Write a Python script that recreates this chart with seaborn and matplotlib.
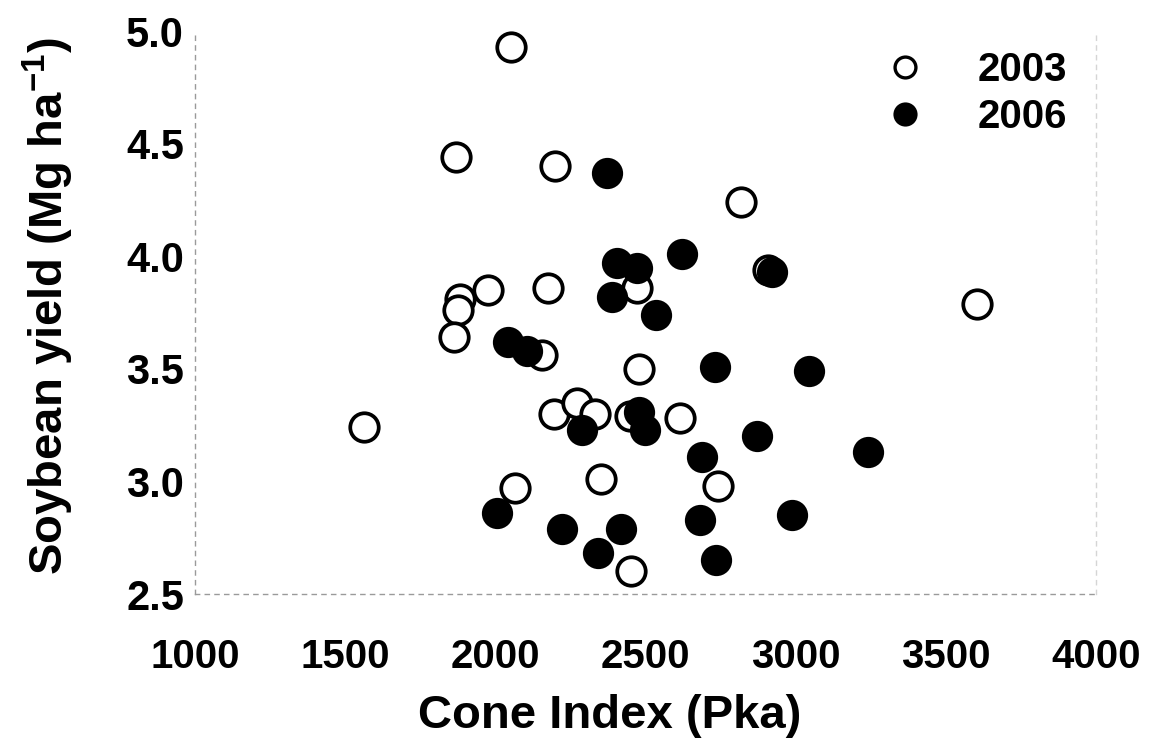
import matplotlib
matplotlib.use("Agg")
import matplotlib.pyplot as plt
import seaborn as sns
import pandas as pd
from matplotlib.lines import Line2D

# ---- data ----
ci_2003 = [2052, 1869, 2199, 2818, 1976, 2175, 2472, 1882, 1876, 1862, 2156, 2479,
           3604, 1563, 2195, 2272, 2332, 2449, 2615, 2066, 2352, 2742, 2452, 2908]
yield_2003 = [4.93, 4.44, 4.40, 4.24, 3.85, 3.86, 3.86, 3.81, 3.76, 3.64, 3.56, 3.50,
              3.79, 3.24, 3.30, 3.35, 3.30, 3.29, 3.28, 2.97, 3.01, 2.98, 2.60, 3.94]
ci_2006 = [2372, 2405, 2472, 2622, 2921, 2389, 2535, 2042, 2106, 2732, 3045, 2479,
           2289, 2499, 2871, 3241, 2688, 2006, 2222, 2419, 2682, 2988, 2342, 2735]
yield_2006 = [4.37, 3.97, 3.95, 4.01, 3.93, 3.82, 3.74, 3.62, 3.58, 3.51, 3.49, 3.31,
              3.23, 3.23, 3.20, 3.13, 3.11, 2.86, 2.79, 2.79, 2.83, 2.85, 2.68, 2.65]
years = ["2003", "2006"]
x_ticks = [1000, 1500, 2000, 2500, 3000, 3500, 4000]
y_ticks = [2.5, 3.0, 3.5, 4.0, 4.5, 5.0]

df03 = pd.DataFrame({"ci": ci_2003, "yld": yield_2003})
df06 = pd.DataFrame({"ci": ci_2006, "yld": yield_2006})

sns.set_style("white")
plt.rcParams["font.family"] = ["Liberation Sans", "DejaVu Sans"]
plt.rcParams["font.weight"] = "bold"
plt.rcParams["text.color"] = "black"
plt.rcParams["axes.labelcolor"] = "black"
plt.rcParams["xtick.labelcolor"] = "black"
plt.rcParams["ytick.labelcolor"] = "black"
plt.rcParams["mathtext.fontset"] = "custom"
plt.rcParams["mathtext.rm"] = "Liberation Sans:bold"
plt.rcParams["mathtext.it"] = "Liberation Sans:bold"
plt.rcParams["mathtext.bf"] = "Liberation Sans:bold"
plt.rcParams["mathtext.default"] = "rm"

W, H = 1157, 751
fig = plt.figure(figsize=(W / 100, H / 100), dpi=100)
x0, x1 = 195, 1096
y0, y1 = 594, 31.5
ax = fig.add_axes([x0 / W, 1 - y0 / H, (x1 - x0) / W, (y0 - y1) / H])

sns.scatterplot(data=df03, x="ci", y="yld", ax=ax, s=420, marker="o",
                facecolor="white", edgecolor="black", linewidth=2.7, zorder=3)
sns.scatterplot(data=df06, x="ci", y="yld", ax=ax, s=420, marker="o",
                facecolor="black", edgecolor="black", linewidth=2.0, zorder=4)

ax.set_xlim(1000, 4000)
ax.set_ylim(2.5, 5.0)
ax.set_xticks(x_ticks)
ax.set_yticks(y_ticks)
ax.set_xticklabels([str(t) for t in x_ticks])
ax.set_yticklabels([f"{t:.1f}" for t in y_ticks])
ax.tick_params(axis="x", labelsize=29, pad=32, length=4, width=1, color="#aaaaaa",
               direction="in", labelcolor="black")
ax.tick_params(axis="y", labelsize=30, pad=8, length=4, width=1, color="#aaaaaa",
               direction="in", labelcolor="black")
for lab in ax.get_xticklabels() + ax.get_yticklabels():
    lab.set_fontweight("bold")

for side in ["left", "bottom", "right"]:
    ax.spines[side].set_visible(True)
    ax.spines[side].set_linestyle((0, (3, 4)))
    ax.spines[side].set_linewidth(1.0)
ax.spines["left"].set_color("#9a9a9a")
ax.spines["bottom"].set_color("#9a9a9a")
ax.spines["right"].set_color("#d5d5d5")
ax.spines["top"].set_visible(False)

ax.set_xlabel("Cone Index (Pka)", fontsize=34, fontweight="bold", color="black")
ax.set_ylabel("Soybean yield (Mg ha$^{-1}$)", fontsize=34, fontweight="bold", color="black")
ax.xaxis.set_label_coords((610 - x0) / (x1 - x0), -(716 - y0) / (y0 - y1), transform=ax.transAxes)
ax.yaxis.set_label_coords(-(x0 - 48) / (x1 - x0), (y0 - 306) / (y0 - y1), transform=ax.transAxes)
ax.xaxis.label.set_va("center")
ax.yaxis.label.set_va("center")

handles = [Line2D([], [], linestyle="none", marker="o", markersize=15,
                  markerfacecolor="white", markeredgecolor="black", markeredgewidth=2.4),
           Line2D([], [], linestyle="none", marker="o", markersize=15,
                  markerfacecolor="black", markeredgecolor="black", markeredgewidth=2.4)]
leg = ax.legend(handles, years, loc="upper left",
                bbox_to_anchor=(885 / W, 1 - 51 / H), bbox_transform=fig.transFigure,
                frameon=False, fontsize=29, handlelength=1.0, handletextpad=1.3,
                labelspacing=0.22, borderpad=0, borderaxespad=0)
for t in leg.get_texts():
    t.set_fontweight("bold")
    t.set_color("black")

fig.savefig("out.png", dpi=100, facecolor="white")
